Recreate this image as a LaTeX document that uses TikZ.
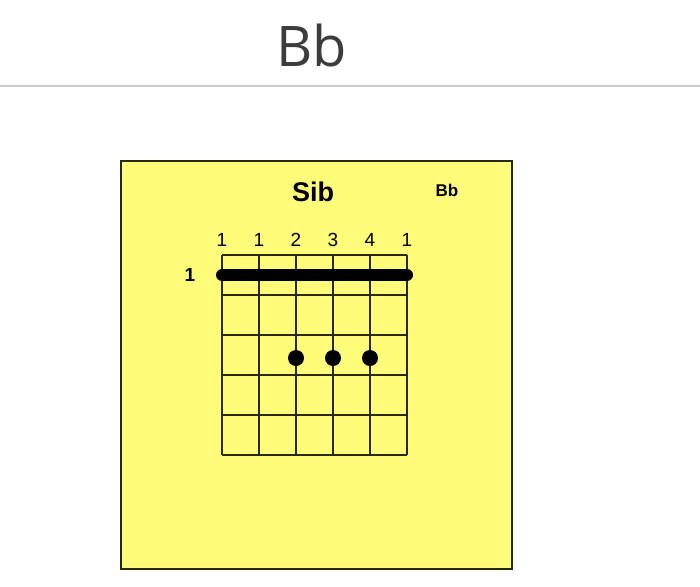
\documentclass[tikz,border=0pt]{standalone}
\usepackage{fontspec}
\setmainfont{Liberation Sans}
\newfontfamily\titlefont{Open Sans}
\definecolor{chordyellow}{RGB}{255,252,122}
\definecolor{gridline}{RGB}{40,40,10}
\definecolor{titlegray}{RGB}{60,60,60}
\tikzset{
  fretline/.style={gridline, line width=1.8pt},
  fingerlabel/.style={font=\fontsize{19}{21}\selectfont},
}
\begin{document}
\begin{tikzpicture}[x=1pt, y=-1pt, every node/.style={inner sep=0pt}]
\useasboundingbox (0,0) rectangle (700,586);
% 标题
\node[text=titlegray, font=\titlefont\fontsize{56}{60}\selectfont] (title) at (312,45) {Bb};
\draw[gray!40, line width=1.5pt] (0,86) -- (700,86);

% 和弦图框
\draw[fill=chordyellow, draw=gridline, line width=2pt] (121,161) rectangle (512,569);
\node[font=\bfseries\fontsize{27}{30}\selectfont] (name) at (313,192) {Sib};
\node[font=\bfseries\fontsize{17}{19}\selectfont] (alt) at (447,190) {Bb};

% 弦与品
\foreach \i in {0,...,5} {
  \coordinate (s\i) at (222+37*\i, 255);
  \coordinate (e\i) at (222+37*\i, 455);
  \draw[fretline] (s\i) -- (e\i);
}
\foreach \j in {0,...,5}
  \draw[fretline] (222,255+40*\j) -- (407,255+40*\j);

% 指法
\foreach \f [count=\i from 0] in {1,1,2,3,4,1}
  \node[fingerlabel] (f\i) at (222+37*\i, 240) {\f};
\node[font=\bfseries\fontsize{19}{21}\selectfont] (fret) at (190,275) {1};

% 横按与按点
\draw[line width=12pt, line cap=round] (222,275) -- (407,275);
\fill (296,358) circle (8pt);
\fill (333,358) circle (8pt);
\fill (370,358) circle (8pt);
\end{tikzpicture}
\end{document}
